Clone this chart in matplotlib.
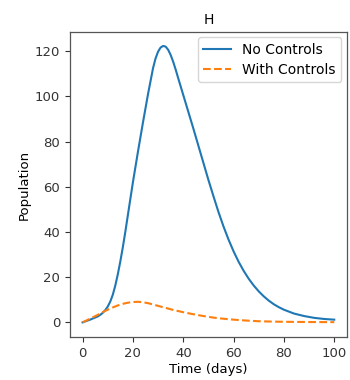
import matplotlib
matplotlib.use("Agg")
import matplotlib.pyplot as plt

days_nc = [0, 3, 6, 7, 8, 9, 10, 11, 12, 13, 14, 15, 16, 17, 18, 19, 20, 22, 24, 26,
           28, 29, 30, 31, 32, 33, 34, 35, 36, 37, 38, 39, 40, 42, 44, 46, 48, 50, 52,
           54, 56, 58, 60, 62, 64, 66, 68, 70, 72, 74, 76, 78, 80, 84, 88, 92, 96, 100]
no_controls = [0, 1.2, 2.6, 3.3, 4.2, 5.4, 7.0, 9.2, 12.2, 16.3, 21.3, 27, 33.3,
               40.2, 47.5, 54.8, 62, 75.5, 88.5, 101, 112.5, 116.8, 119.8, 121.6,
               122.3, 122, 120.6, 118.3, 115.3, 111.8, 108, 104.3, 100.6, 93.2, 85.8,
               78.2, 70.6, 63, 55.8, 48.8, 42.4, 36.6, 31.4, 26.8, 22.8, 19.3, 16.3,
               13.7, 11.5, 9.6, 8.0, 6.7, 5.6, 3.9, 2.8, 2.0, 1.5, 1.2]

days_wc = [0, 2, 4, 6, 8, 10, 12, 14, 16, 18, 20, 22, 24, 26, 28, 30, 32, 34, 36,
           38, 40, 44, 48, 52, 56, 60, 65, 70, 75, 80, 90, 100]
with_controls = [0, 1.1, 2.2, 3.3, 4.5, 5.6, 6.6, 7.5, 8.2, 8.7, 9.0, 9.1, 8.9, 8.5,
                 7.9, 7.3, 6.7, 6.1, 5.5, 5.0, 4.5, 3.6, 2.8, 2.1, 1.6, 1.2, 0.8,
                 0.5, 0.35, 0.25, 0.15, 0.1]

title = "H"
xlabel = "Time (days)"
ylabel = "Population"
labels = ["No Controls", "With Controls"]
xticks = [0, 20, 40, 60, 80, 100]
yticks = [0, 20, 40, 60, 80, 100, 120]

plt.rcParams['font.family'] = ['DejaVu Sans']
fig = plt.figure(figsize=(3.5, 3.8), dpi=100)
ax = fig.add_axes([0.2, 0.113, 0.791, 0.803])

ax.plot(days_nc, no_controls, color="#1f77b4", lw=1.5, label=labels[0])
ax.plot(days_wc, with_controls, color="#ff7f0e", lw=1.5, ls="--", label=labels[1])

ax.set_xlim(-5, 105)
ax.set_ylim(-6.5, 128.5)
ax.set_xticks(xticks)
ax.set_yticks(yticks)
ax.tick_params(labelsize=9.5, length=3.5, width=0.8, colors="#333333")
for s in ax.spines.values():
    s.set_color("#555555")
    s.set_linewidth(0.9)

ax.set_title(title, fontsize=10, pad=6)
ax.set_xlabel(xlabel, fontsize=9.5, labelpad=2)
ax.set_ylabel(ylabel, fontsize=9.5, labelpad=3)
ax.legend(loc="upper right", fontsize=10, handlelength=2.0, borderaxespad=0.4,
          labelspacing=0.4, handletextpad=0.8)

fig.savefig("out.png", dpi=100)
